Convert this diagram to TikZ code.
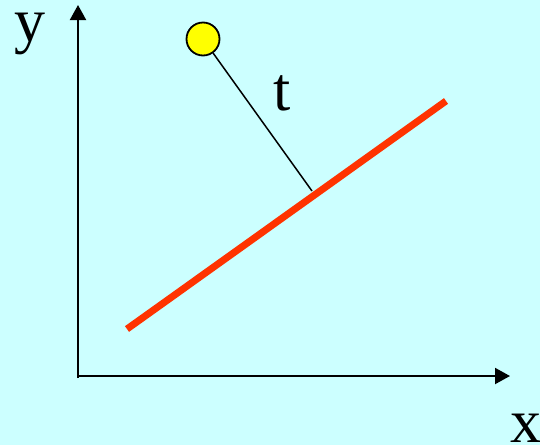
\documentclass[tikz,border=0pt]{standalone}
\usepackage{fontspec}
\setmainfont{Liberation Serif}
\usetikzlibrary{arrows.meta}
\definecolor{bgcyan}{HTML}{CCFFFF}
\definecolor{linered}{HTML}{FF3300}
\definecolor{ballyellow}{HTML}{FFFF00}
\tikzset{
  axis/.style={line width=2pt, -{Triangle[length=15pt,width=16pt]}},
  redline/.style={line width=7pt, draw=linered},
  ball/.style={circle, draw=black, line width=1.8pt, fill=ballyellow, minimum size=33pt, inner sep=0pt},
  lbl/.style={font=\fontsize{62}{62}\selectfont, inner sep=0pt, anchor=base},
  conn/.style={line width=1.5pt}
}
\begin{document}
\begin{tikzpicture}[x=1pt,y=-1pt]
\useasboundingbox (0,0) rectangle (540,445);
\fill[bgcyan] (0,0) rectangle (540,445);
\coordinate (O) at (78,377);
\coordinate (ytip) at (78,5);
\coordinate (xtip) at (510,376);
\draw[axis] (78,378) -- (ytip);
\draw[axis] (77,376) -- (xtip);
\node[lbl] (ylab) at (30,41) {y};
\node[lbl] (xlab) at (526,442) {x};
\coordinate (rA) at (127,329);
\coordinate (rB) at (446,101);
\draw[redline] (rA) -- (rB);
\coordinate (foot) at (312,191);
\node[ball] (b) at (203,39) {};
\draw[conn] (b) -- (foot);
\node[lbl] (tlab) at (282,110) {t};
\end{tikzpicture}
\end{document}
